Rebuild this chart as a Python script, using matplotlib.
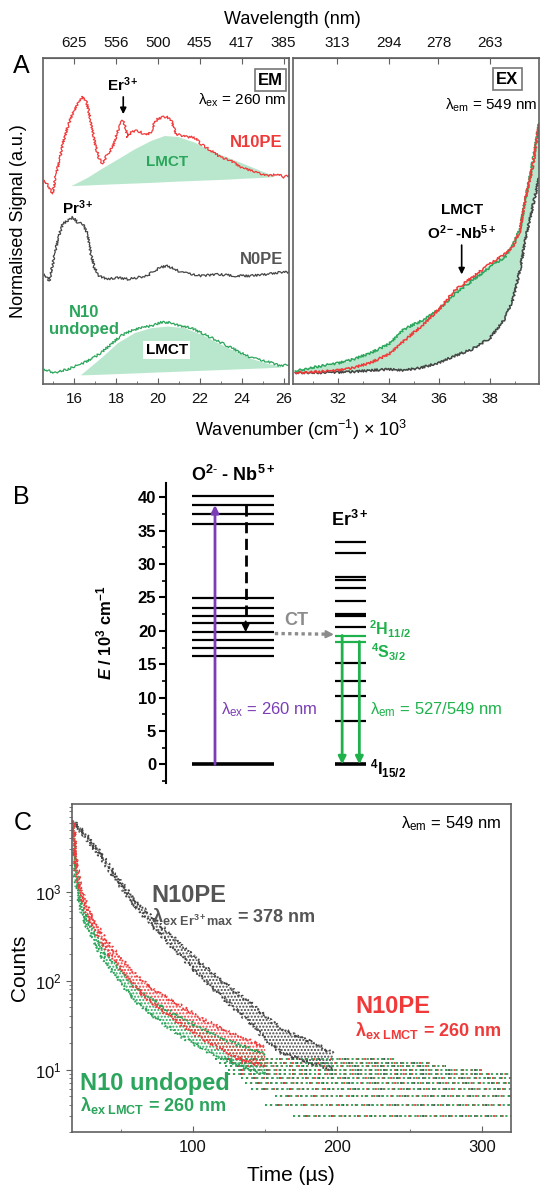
import numpy as np
import matplotlib
matplotlib.use("Agg")
import matplotlib.pyplot as plt
from matplotlib.ticker import MultipleLocator, LogLocator, NullFormatter, NullLocator

plt.rcParams['font.family'] = ['Liberation Sans', 'DejaVu Sans']
plt.rcParams['mathtext.fontset'] = 'custom'
plt.rcParams['mathtext.rm'] = 'Liberation Sans'
plt.rcParams['mathtext.it'] = 'Liberation Sans:italic'
plt.rcParams['mathtext.bf'] = 'Liberation Sans:bold'
plt.rcParams['mathtext.bfit'] = 'Liberation Sans:italic:bold'
plt.rcParams['hatch.linewidth'] = 1.0

RED = '#f03a3a'
GRAY = '#444444'
GREEN = '#2ba55b'
FILL = '#b9e7cd'
PURPLE = '#7b3db6'
ERGREEN = '#1fb24c'
SPINE = '#606060'

# ---------------- panel A : emission (wavenumber x 10^3 cm-1, signal % of height)
em_red_wn = [14.57, 14.81, 14.97, 15.13, 15.29, 15.44, 15.68, 15.92, 16.16, 16.40, 16.56, 16.71,
             16.87, 17.03, 17.19, 17.35, 17.59, 17.83, 17.98, 18.14, 18.30, 18.41, 18.54, 18.70,
             18.94, 19.17, 19.41, 19.65, 19.81, 19.97, 20.21, 20.44, 20.63, 20.84, 21.08, 21.40,
             21.71, 22.03, 22.51, 22.98, 23.46, 23.94, 24.41, 24.89, 25.37, 25.76, 26.00, 26.24]
em_red = [62.5, 60.4, 58.4, 64.5, 68.6, 73.7, 78.9, 83.0, 86.1, 88.1, 87.1, 83.0,
          77.8, 72.7, 69.1, 67.6, 70.7, 72.7, 75.8, 78.9, 80.9, 79.4, 75.8, 77.3,
          77.8, 77.3, 76.3, 77.3, 79.9, 81.4, 81.9, 81.9, 80.9, 76.8, 76.3, 75.8,
          75.8, 73.7, 71.7, 69.6, 68.6, 66.6, 65.5, 64.5, 64.0, 64.5, 63.5, 64.0]

em_gray_wn = [14.57, 14.81, 14.97, 15.13, 15.29, 15.44, 15.68, 15.92, 16.16, 16.40, 16.63, 16.79,
              16.95, 17.19, 17.59, 18.06, 18.54, 19.02, 19.49, 19.81, 20.13, 20.44, 20.76, 21.08,
              21.56, 22.03, 22.83, 23.62, 24.41, 25.21, 25.84, 26.24]
em_gray = [33.7, 31.7, 36.8, 41.9, 46.1, 49.1, 50.2, 51.2, 49.6, 49.1, 46.1, 39.9,
           35.8, 33.2, 32.2, 32.7, 32.2, 32.7, 33.2, 34.8, 35.8, 36.3, 35.3, 34.3,
           33.7, 33.2, 33.7, 33.2, 33.2, 33.7, 34.3, 34.3]

em_green_wn = [14.57, 15.05, 15.68, 16.32, 16.79, 17.27, 17.75, 18.22, 18.70, 19.17, 19.65, 20.13,
               20.60, 21.08, 21.56, 22.03, 22.51, 22.98, 23.46, 23.94, 24.41, 24.89, 25.37, 25.84, 26.24]
em_green = [4.5, 3.5, 4.5, 6.1, 7.6, 9.6, 12.2, 14.8, 16.3, 17.3, 17.8, 18.9,
            18.9, 17.8, 17.3, 15.8, 14.3, 12.7, 11.2, 9.6, 8.1, 7.3, 6.6, 5.5, 6.1]

lmct_red_wn = [15.84, 16.63, 17.27, 18.06, 18.86, 19.65, 20.29, 20.92, 21.71, 22.51, 23.30, 24.10, 24.89, 25.52]
lmct_red_top = [60.9, 63.5, 66.1, 69.1, 72.2, 74.8, 76.3, 76.0, 74.3, 71.7, 69.6, 67.6, 65.5, 64.0]
lmct_red_base = [60.9, 61.1, 61.3, 61.5, 61.7, 61.9, 62.1, 62.3, 62.5, 62.7, 62.9, 63.2, 63.4, 63.7]

lmct_grn_wn = [16.32, 17.27, 18.06, 18.86, 19.65, 20.44, 21.24, 22.03, 22.83, 23.62, 24.41, 25.21, 25.84]
lmct_grn_top = [3.0, 8.1, 12.7, 15.8, 17.3, 17.8, 17.3, 15.3, 12.7, 10.2, 7.9, 6.3, 5.5]
lmct_grn_base = [2.8, 3.0, 3.2, 3.4, 3.6, 3.8, 4.0, 4.2, 4.4, 4.6, 4.8, 5.0, 5.2]

em_top_wl = [625, 556, 500, 455, 417, 385]

# ---------------- panel A : excitation
ex_wn = [30.3, 31.3, 32.0, 32.6, 33.3, 34.0, 34.6, 35.3, 36.0, 36.6, 37.3, 38.0,
         38.6, 38.9, 39.2, 39.4, 39.7, 39.95]
ex_gray = [3.5, 3.5, 3.6, 3.8, 4.2, 4.5, 4.2, 5.0, 6.6, 8.6, 10.7, 14.0,
           20.0, 25.5, 35.0, 44.0, 54.3, 63.5]
ex_red = [3.5, 3.8, 4.2, 5.0, 6.6, 9.1, 13.2, 17.8, 23.0, 28.6, 32.7, 36.8,
          39.9, 41.9, 47.1, 56.3, 66.6, 79.9]
ex_green = [4.0, 5.5, 6.4, 7.6, 9.6, 12.2, 16.8, 19.4, 23.0, 27.6, 31.7, 35.8,
            38.9, 42.5, 47.5, 56.0, 68.0, 79.9]
ex_top_wl = [313, 294, 278, 263]

# ---------------- panel B : energy levels (10^3 cm-1)
onb_levels = [40.25, 38.85, 37.55, 36.05, 24.85, 23.45, 22.25, 21.1, 19.8, 18.6, 17.45, 16.3]
er_levels = [33.35, 31.7, 28.1, 27.65, 26.45, 24.45, 22.5, 22.2, 20.5, 15.2, 12.45, 10.25, 6.5]
er_emit_levels = [19.3, 18.4]
ground_level = 0.0
ex_level = 38.85
relax_level = 19.8
ct_level = 19.6

# ---------------- panel C : decays (time us, counts)
gray_t = [17.3, 26.5, 35.7, 47.3, 58.7, 70.3, 81.8, 93.3, 104.8, 116.4, 127.9, 139.4, 151, 162.4, 174, 186, 197]
gray_hi = [6300, 4250, 2780, 1460, 850, 540, 360, 240, 160, 110, 78, 57, 38, 28, 23, 19, 15]
gray_lo = [6000, 3950, 2550, 1320, 740, 445, 280, 178, 113, 75, 50, 34, 21, 15, 13, 11, 10]

red_t = [17.3, 19.1, 21.9, 26.5, 33.4, 40.4, 49.6, 58.7, 70.3, 81.8, 93.3, 104.8, 116.4, 127.9, 139.4, 150]
red_hi = [6300, 2300, 1150, 700, 420, 275, 182, 122, 84, 64, 50, 38, 31, 25, 21, 18]
red_lo = [6000, 2000, 990, 580, 345, 220, 140, 88, 58, 42, 31, 23, 18, 14, 12, 11]

green_t = [17.3, 18.7, 21.9, 26.5, 33.4, 40.4, 49.6, 58.7, 70.3, 81.8, 93.3, 104.8, 116.4, 127.9, 139.4, 150]
green_hi = [6300, 1800, 830, 500, 300, 195, 130, 88, 63, 47, 37, 30, 24, 20, 17, 15]
green_lo = [6000, 1500, 690, 410, 240, 152, 96, 62, 42, 31, 23, 18, 14, 12, 10, 9]

tail_levels = [3, 4, 5, 6, 7, 8, 9, 10, 11, 12, 13]
tail_start = [169, 150, 157, 140, 136, 133, 124, 124, 122, 118, 115]
tail_end = [320, 320, 320, 320, 320, 320, 320, 300, 275, 265, 240]

W, H = 550, 1198
fig = plt.figure(figsize=(W / 100, H / 100), dpi=100)


def fx(x, y):
    return x / W, 1 - y / H


def style_a(ax):
    for s in ax.spines.values():
        s.set_color(SPINE)
        s.set_linewidth(1.2)
    ax.set_ylim(0, 100)
    ax.yaxis.set_major_locator(NullLocator())
    ax.xaxis.set_major_locator(MultipleLocator(2))
    ax.xaxis.set_minor_locator(MultipleLocator(1))
    ax.tick_params(axis='x', which='both', direction='in', colors=SPINE, labelcolor='#111111',
                   labelsize=11, pad=6)
    ax.tick_params(axis='x', which='major', length=4)
    ax.tick_params(axis='x', which='minor', length=2)


def sketchy(line, scale=1.1, length=1.3):
    line.set_sketch_params(scale=scale, length=length, randomness=4.0)


# ======== A left: EM
axL = fig.add_axes([43.3 / W, 1 - 384 / H, 246 / W, 325.7 / H])
style_a(axL)
axL.set_xlim(14.52, 26.25)
axL.fill_between(lmct_red_wn, lmct_red_base, lmct_red_top, color=FILL, lw=0)
axL.fill_between(lmct_grn_wn, lmct_grn_base, lmct_grn_top, color=FILL, lw=0)
for wn, sig, c in [(em_red_wn, em_red, RED), (em_gray_wn, em_gray, GRAY), (em_green_wn, em_green, GREEN)]:
    ln, = axL.plot(wn, sig, color=c, lw=0.9)
    sketchy(ln)
secL = axL.secondary_xaxis('top', functions=(lambda w: 1e4 / np.asarray(w, float),
                                             lambda l: 1e4 / np.asarray(l, float)))
secL.set_xticks(em_top_wl, labels=[str(v) for v in em_top_wl])
secL.tick_params(direction='in', length=4, colors=SPINE, labelcolor='#111111', labelsize=11, pad=6)
secL.spines['top'].set_color(SPINE)

T = axL.transAxes
axL.text(0.924, 0.933, 'EM', transform=T, ha='center', va='center', fontsize=12, weight='bold',
         bbox=dict(boxstyle='square,pad=0.2', fc='white', ec='#777777', lw=1.2))
axL.text(0.99, 0.872, 'λ$_{\\mathrm{ex}}$ = 260 nm', transform=T, ha='right', va='center', fontsize=11)
axL.text(0.974, 0.743, 'N10PE', transform=T, ha='right', va='center', fontsize=12, weight='bold', color=RED)
axL.text(0.325, 0.918, 'Er$^{\\mathbf{3+}}$', transform=T, ha='center', va='center', fontsize=11, weight='bold')
axL.annotate('', xy=(0.325, 0.82), xytext=(0.325, 0.89), xycoords=T, textcoords=T,
             arrowprops=dict(arrowstyle='-|>', color='black', lw=1.2, mutation_scale=9))
axL.text(0.502, 0.682, 'LMCT', transform=T, ha='center', va='center', fontsize=11, weight='bold', color=GREEN)
axL.text(0.142, 0.540, 'Pr$^{\\mathbf{3+}}$', transform=T, ha='center', va='center', fontsize=11, weight='bold')
axL.text(0.974, 0.381, 'N0PE', transform=T, ha='right', va='center', fontsize=12, weight='bold', color='#555555')
axL.text(0.165, 0.193, 'N10\nundoped', transform=T, ha='center', va='center', fontsize=12, weight='bold',
         color=GREEN, linespacing=1.15)
axL.text(0.502, 0.104, 'LMCT', transform=T, ha='center', va='center', fontsize=11, weight='bold',
         bbox=dict(boxstyle='square,pad=0.15', fc='white', ec='none'))

# ======== A right: EX
axR = fig.add_axes([292.7 / W, 1 - 384 / H, 246.3 / W, 325.7 / H])
style_a(axR)
axR.set_xlim(30.2, 39.95)
axR.fill_between(ex_wn, ex_gray, np.maximum(ex_red, ex_green), color=FILL, lw=0)
for sig, c in [(ex_gray, GRAY), (ex_green, GREEN), (ex_red, RED)]:
    ln, = axR.plot(ex_wn, sig, color=c, lw=1.1)
    sketchy(ln)
secR = axR.secondary_xaxis('top', functions=(lambda w: 1e4 / np.asarray(w, float),
                                             lambda l: 1e4 / np.asarray(l, float)))
secR.set_xticks(ex_top_wl, labels=[str(v) for v in ex_top_wl])
secR.tick_params(direction='in', length=4, colors=SPINE, labelcolor='#111111', labelsize=11, pad=6)
secR.spines['top'].set_color(SPINE)
T = axR.transAxes
axR.text(0.872, 0.936, 'EX', transform=T, ha='center', va='center', fontsize=12, weight='bold',
         bbox=dict(boxstyle='square,pad=0.2', fc='white', ec='#777777', lw=1.2))
axR.text(0.992, 0.857, 'λ$_{\\mathrm{em}}$ = 549 nm', transform=T, ha='right', va='center', fontsize=11)
axR.text(0.686, 0.534, 'LMCT', transform=T, ha='center', va='center', fontsize=11, weight='bold')
axR.text(0.686, 0.464, 'O$^{\\mathbf{2-}}$-Nb$^{\\mathbf{5+}}$', transform=T, ha='center', va='center',
         fontsize=11, weight='bold')
axR.annotate('', xy=(0.686, 0.328), xytext=(0.686, 0.435), xycoords=T, textcoords=T,
             arrowprops=dict(arrowstyle='-|>', color='black', lw=1.2, mutation_scale=9))

fig.text(*fx(21.7, 66), 'A', fontsize=18, ha='center', va='center')
fig.text(*fx(292, 20), 'Wavelength (nm)', fontsize=13, ha='center', va='center')
fig.text(*fx(301, 430), 'Wavenumber (cm$^{-1}$) × 10$^3$', fontsize=13, ha='center', va='center')
fig.text(*fx(19, 221), 'Normalised Signal (a.u.)', fontsize=13, ha='center', va='center', rotation=90)

# ======== B: energy diagram
axB = fig.add_axes([166 / W, 1 - 782.7 / H, 374 / W, 299.4 / H])
axB.set_xlim(0, 1)
axB.set_ylim(-2.75, 42.1)
for s in ['top', 'right', 'bottom']:
    axB.spines[s].set_visible(False)
axB.spines['left'].set_linewidth(1.5)
axB.xaxis.set_major_locator(NullLocator())
axB.yaxis.set_major_locator(MultipleLocator(5))
axB.yaxis.set_minor_locator(MultipleLocator(2.5))
axB.tick_params(axis='y', which='major', direction='out', length=5, width=1.5, labelsize=12, pad=2)
axB.tick_params(axis='y', which='minor', direction='out', length=3, width=1.2)
for lab in axB.get_yticklabels():
    lab.set_fontweight('bold')
axB.set_ylabel('$\\mathbfit{E}$$\\mathbf{\\ /\\ 10^3\\ cm^{-1}}$', fontsize=12)
axB.yaxis.set_label_coords(-0.137, 0.5)

axB.hlines(onb_levels, 0.069, 0.289, color='black', lw=1.6)
axB.hlines(er_levels, 0.452, 0.536, color='black', lw=1.6)
axB.hlines(er_emit_levels, 0.452, 0.536, color=ERGREEN, lw=1.6)
axB.hlines([ground_level], 0.069, 0.289, color='black', lw=2.6)
axB.hlines([ground_level], 0.452, 0.536, color='black', lw=2.6)

axB.annotate('', xy=(0.131, ex_level), xytext=(0.131, ground_level),
             arrowprops=dict(arrowstyle='-|>', color=PURPLE, lw=2, mutation_scale=11, shrinkA=0, shrinkB=0))
axB.plot([0.213, 0.213], [ex_level, relax_level + 1.5], color='black', lw=2, ls=(0, (4, 2)))
axB.annotate('', xy=(0.213, relax_level), xytext=(0.213, relax_level + 1.6),
             arrowprops=dict(arrowstyle='-|>', color='black', lw=1.5, mutation_scale=10, shrinkA=0, shrinkB=0))
axB.plot([0.291, 0.43], [ct_level, ct_level - 0.1], color='#8c8c8c', lw=2.4, ls=(0, (1, 1)))
axB.annotate('', xy=(0.449, ct_level - 0.15), xytext=(0.425, ct_level - 0.1),
             arrowprops=dict(arrowstyle='-|>', color='#8c8c8c', lw=1.5, mutation_scale=11, shrinkA=0, shrinkB=0))
for xa, lev in zip([0.471, 0.517], er_emit_levels):
    axB.annotate('', xy=(xa, ground_level), xytext=(xa, lev),
                 arrowprops=dict(arrowstyle='-|>', color=ERGREEN, lw=2, mutation_scale=11, shrinkA=0, shrinkB=0))

axB.text(0.178, 43.4, 'O$^{\\mathbf{2\\text{-}}}$ - Nb$^{\\mathbf{5+}}$', ha='center', va='center',
         fontsize=13, weight='bold', clip_on=False)
axB.text(0.49, 36.6, 'Er$^{\\mathbf{3+}}$', ha='center', va='center', fontsize=13, weight='bold')
axB.text(0.349, 21.6, 'CT', ha='center', va='center', fontsize=13, weight='bold', color='#8c8c8c')
axB.text(0.544, 20.3, '$^{\\mathbf{2}}$H$_{\\mathbf{11/2}}$', ha='left', va='center', fontsize=11.5,
         weight='bold', color=ERGREEN)
axB.text(0.547, 16.8, '$^{\\mathbf{4}}$S$_{\\mathbf{3/2}}$', ha='left', va='center', fontsize=11.5,
         weight='bold', color=ERGREEN)
axB.text(0.146, 8.2, 'λ$_{\\mathrm{ex}}$ = 260 nm', ha='left', va='center', fontsize=12, color=PURPLE)
axB.text(0.546, 8.2, 'λ$_{\\mathrm{em}}$ = 527/549 nm', ha='left', va='center', fontsize=12, color=ERGREEN)
axB.text(0.546, -0.6, '$^{\\mathbf{4}}$I$_{\\mathbf{15/2}}$', ha='left', va='center', fontsize=12, weight='bold')
fig.text(*fx(21, 497), 'B', fontsize=18, ha='center', va='center')

# ======== C: decays
axC = fig.add_axes([71.7 / W, 1 - 1131.7 / H, 439.3 / W, 327.7 / H])
axC.set_yscale('log')
axC.set_xlim(16.2, 320)
axC.set_ylim(2.0, 9700)
for s in axC.spines.values():
    s.set_color(SPINE)
    s.set_linewidth(1.2)
axC.xaxis.set_major_locator(MultipleLocator(100))
axC.xaxis.set_minor_locator(MultipleLocator(50))
axC.yaxis.set_major_locator(LogLocator(base=10, numticks=10))
axC.yaxis.set_minor_locator(LogLocator(base=10, subs=np.arange(2, 10), numticks=10))
axC.yaxis.set_minor_formatter(NullFormatter())
axC.tick_params(axis='x', which='both', direction='in', colors=SPINE, labelcolor='#111111', labelsize=12, pad=6)
axC.tick_params(axis='x', which='major', length=4)
axC.tick_params(axis='x', which='minor', length=2)
axC.tick_params(axis='y', which='both', direction='out', colors=SPINE, labelcolor='#111111', labelsize=12)
axC.tick_params(axis='y', which='major', length=4)
axC.tick_params(axis='y', which='minor', length=2)
axC.set_xlabel('Time (µs)', fontsize=15, labelpad=8)
axC.set_ylabel('Counts', fontsize=15, labelpad=4)

# tail of quantised counts
for c, dash, lw in [(GRAY, (0.5, (1.2, 6.0)), 1.3), (RED, (2.0, (1.2, 3.5)), 1.3), (GREEN, (0.0, (1.2, 1.6)), 1.3)]:
    axC.hlines(tail_levels, tail_start, tail_end, colors=c, linestyles=[dash], lw=lw)

for t, lo, hi, c in [(gray_t, gray_lo, gray_hi, GRAY), (green_t, green_lo, green_hi, GREEN),
                     (red_t, red_lo, red_hi, RED)]:
    axC.fill_between(t, lo, hi, facecolor='none', edgecolor=c, hatch='.....', lw=0)
    for edge in (hi, lo):
        ln, = axC.plot(t, edge, color=c, lw=1.4, ls=(0, (1, 1.3)))
        sketchy(ln, scale=1.6, length=2.0)

T = axC.transAxes
axC.text(0.979, 0.941, 'λ$_{\\mathrm{em}}$ = 549 nm', transform=T, ha='right', va='center', fontsize=12)
axC.text(0.182, 0.722, 'N10PE', transform=T, ha='left', va='center', fontsize=17, weight='bold', color='#555555')
axC.text(0.182, 0.656, 'λ$_{\\mathbf{ex\\ Er^{3+}max}}$ = 378 nm', transform=T, ha='left', va='center',
         fontsize=13, weight='bold', color='#555555')
axC.text(0.645, 0.381, 'N10PE', transform=T, ha='left', va='center', fontsize=17, weight='bold', color=RED)
axC.text(0.645, 0.31, 'λ$_{\\mathbf{ex\\ LMCT}}$ = 260 nm', transform=T, ha='left', va='center',
         fontsize=13, weight='bold', color=RED)
axC.text(0.019, 0.148, 'N10 undoped', transform=T, ha='left', va='center', fontsize=17, weight='bold', color=GREEN)
axC.text(0.019, 0.081, 'λ$_{\\mathbf{ex\\ LMCT}}$ = 260 nm', transform=T, ha='left', va='center',
         fontsize=13, weight='bold', color=GREEN)
fig.text(*fx(23, 823), 'C', fontsize=18, ha='center', va='center')

fig.savefig('out.png', dpi=100)
